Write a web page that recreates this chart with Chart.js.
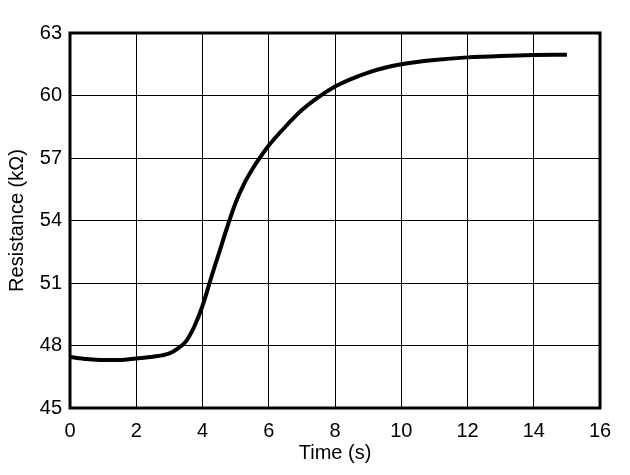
<!DOCTYPE html>
<html>
<head>
<meta charset="utf-8">
<script src="https://cdn.jsdelivr.net/npm/chart.js@4"></script>
<style>
  html, body { margin: 0; padding: 0; background: #fff; }
  #wrap { width: 630px; height: 475px; }
</style>
</head>
<body>
<div id="wrap"><canvas id="resChart" width="630" height="475"></canvas></div>
<script>
// Resistance vs time
const timeS = [0, 0.5, 1, 1.5, 2, 2.5, 3, 3.25, 3.5, 3.75, 4, 4.25, 4.5, 4.75, 5, 5.25, 5.5, 5.75, 6, 6.5, 7, 7.5, 8, 8.5, 9, 9.5, 10, 11, 12, 13, 14, 15];
const resistanceK = [47.45, 47.35, 47.3, 47.3, 47.38, 47.46, 47.62, 47.85, 48.2, 48.9, 49.9, 51.2, 52.45, 53.7, 54.85, 55.75, 56.45, 57.05, 57.6, 58.5, 59.3, 59.92, 60.43, 60.8, 61.1, 61.33, 61.5, 61.7, 61.83, 61.9, 61.94, 61.96];
const xTicks = [0, 2, 4, 6, 8, 10, 12, 14, 16];
const yTicks = [45, 48, 51, 54, 57, 60, 63];

const FONT = "'Liberation Sans', Arial, sans-serif";

// frame round the plot area (all four sides)
const frame = {
    id: 'frame',
    afterDraw(chart) {
        const {ctx, chartArea: a} = chart;
        ctx.save();
        ctx.strokeStyle = '#000';
        ctx.lineWidth = 3;
        ctx.strokeRect(a.left, a.top, a.right - a.left, a.bottom - a.top);
        ctx.restore();
    }
};

const ctx = document.getElementById('resChart').getContext('2d');
new Chart(ctx, {
    type: 'line',
    data: {
        datasets: [{
            data: timeS.map((t, i) => ({x: t, y: resistanceK[i]})),
            borderColor: '#000',
            borderWidth: 4,
            pointRadius: 0,
            cubicInterpolationMode: 'monotone',
            fill: false
        }]
    },
    options: {
        responsive: false,
        animation: false,
        layout: { padding: { top: 33, right: 30, left: 0, bottom: 0 } },
        plugins: { legend: { display: false }, tooltip: { enabled: false } },
        scales: {
            x: {
                type: 'linear',
                min: 0, max: 16,
                afterBuildTicks: s => { s.ticks = xTicks.map(v => ({value: v})); },
                afterFit: s => { s.height = 67; },
                grid: { color: '#000', lineWidth: 1, drawTicks: false },
                border: { display: false },
                ticks: { color: '#000', font: { family: FONT, size: 20 }, padding: 11, maxRotation: 0 },
                title: { display: true, text: 'Time (s)', color: '#000', font: { family: FONT, size: 20 }, padding: { top: 0, bottom: 10 } }
            },
            y: {
                min: 45, max: 63,
                afterBuildTicks: s => { s.ticks = yTicks.map(v => ({value: v})); },
                afterFit: s => { s.width = 70; },
                grid: { color: '#000', lineWidth: 1, drawTicks: false },
                border: { display: false },
                ticks: { color: '#000', font: { family: FONT, size: 20 }, padding: 8 },
                title: { display: true, text: 'Resistance (kΩ)', color: '#000', font: { family: FONT, size: 20 }, padding: { top: 5, bottom: 0 } }
            }
        }
    },
    plugins: [frame]
});
</script>
</body>
</html>
